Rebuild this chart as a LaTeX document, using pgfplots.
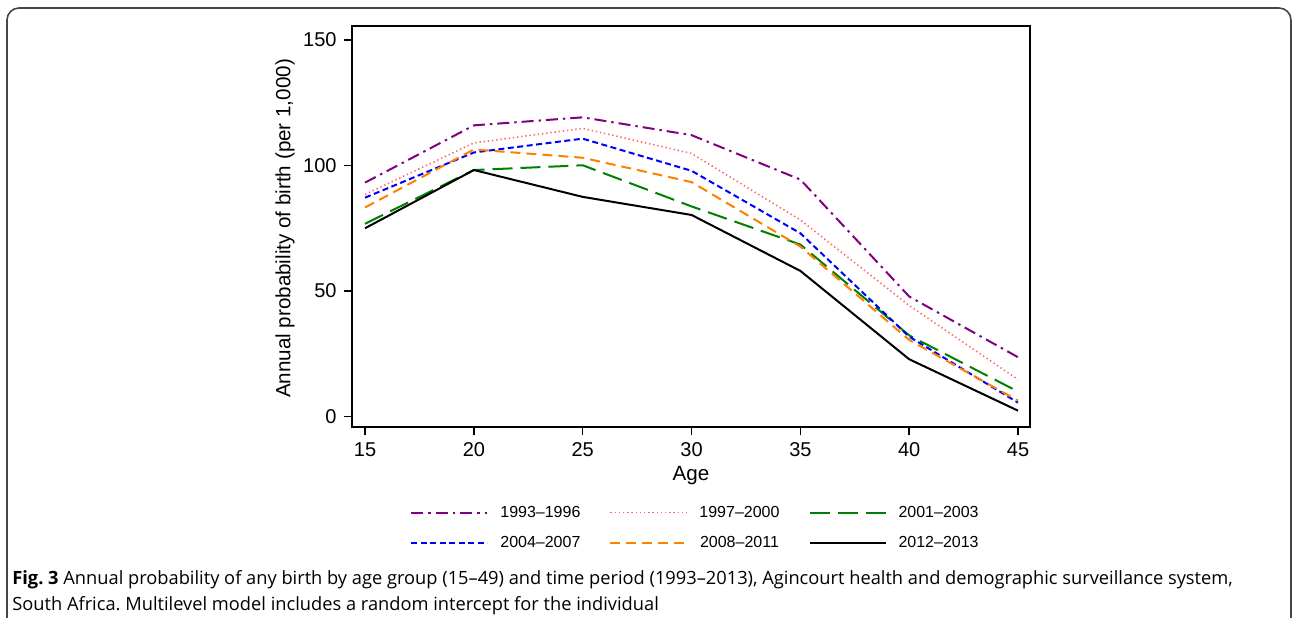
\documentclass[border=0pt]{standalone}
\usepackage{pgfplots}
\pgfplotsset{compat=1.18}
\usepackage{fontspec}
\setmainfont{Liberation Sans}
\newfontfamily\tickfont{Liberation Sans}
\newfontfamily\capfont{Open Sans}
\definecolor{cpurple}{RGB}{128,0,128}
\definecolor{cpink}{RGB}{255,105,105}
\definecolor{cgreen}{RGB}{0,128,0}
\definecolor{cblue}{RGB}{0,0,255}
\definecolor{corange}{RGB}{255,128,0}
\definecolor{frame}{RGB}{70,70,70}
\frenchspacing
\begin{document}
\begin{tikzpicture}
\path[use as bounding box] (0,0) rectangle (646.5bp,309bp);
\begin{scope}
\clip (0,0) rectangle (646.5bp,309bp);
\draw[frame, line width=0.8bp, rounded corners=6bp] (3.5bp,305bp) rectangle (645.5bp,-20bp);
\end{scope}
\begin{axis}[
  at={(176bp,95.5bp)}, anchor=south west,
  scale only axis, width=339bp, height=200.5bp,
  xmin=14.4, xmax=45.55, ymin=-4.2, ymax=155.6,
  xtick={15,20,25,30,35,40,45}, ytick={0,50,100,150},
  tick align=outside, major tick length=4.2bp,
  xtick pos=bottom, ytick pos=left,
  axis line style={line width=0.75bp},
  every tick/.style={black, line width=0.75bp},
  /pgf/number format/assume math mode=true,
  tick label style={font=\tickfont\fontsize{10bp}{12bp}\selectfont},
  label style={font=\fontsize{10.3bp}{12bp}\selectfont},
  xlabel={Age}, ylabel={Annual probability of birth (per 1,000)},
  xlabel style={at={(axis description cs:0.5,-0.12)}, anchor=center},
  ylabel style={at={(axis description cs:-0.0988,0.495)}, anchor=center},
  legend columns=3,
  legend image code/.code={\draw[#1] (0bp,0bp) -- (38bp,0bp);},
  legend style={draw=none, fill=none, font=\fontsize{8bp}{9.6bp}\selectfont,
    at={(axis description cs:0.0855,-0.194)}, anchor=north west,
    inner sep=0pt, row sep=7.5bp,
    nodes={inner sep=0pt, text height=6bp, text depth=1.5bp},
    /tikz/every odd column/.append style={column sep=6bp},
    /tikz/every even column/.append style={column sep=14.5bp}},
  every axis plot/.append style={line width=1bp},
]
\addplot[cpurple, dash pattern=on 6bp off 2.5bp on 1.2bp off 2.5bp] coordinates {
(15,93.2) (20,116.0) (25,119.2) (30,112.1) (35,94.4) (40,47.8) (45,23.6)};
\addlegendentry{1993–1996}
\addplot[cpink, line width=0.8bp, dash pattern=on 0.7bp off 1.4bp] coordinates {
(15,88.5) (20,109.0) (25,114.8) (30,104.8) (35,78.3) (40,44.2) (45,14.7)};
\addlegendentry{1997–2000}
\addplot[cgreen, dash pattern=on 10bp off 4bp] coordinates {
(15,76.8) (20,98.2) (25,100.1) (30,83.7) (35,68.5) (40,32.3) (45,9.9)};
\addlegendentry{2001–2003}
\addplot[cblue, dash pattern=on 3bp off 1.75bp] coordinates {
(15,87.2) (20,105.2) (25,110.7) (30,97.9) (35,73.0) (40,31.8) (45,5.5)};
\addlegendentry{2004–2007}
\addplot[corange, dash pattern=on 5bp off 3bp] coordinates {
(15,83.3) (20,106.4) (25,103.1) (30,93.4) (35,67.7) (40,30.5) (45,6.3)};
\addlegendentry{2008–2011}
\addplot[black] coordinates {
(15,75.0) (20,98.2) (25,87.5) (30,80.3) (35,58.0) (40,22.8) (45,2.3)};
\addlegendentry{2012–2013}
\end{axis}
\node[anchor=base west, inner sep=0pt, font=\capfont\fontsize{9.13bp}{11bp}\selectfont] at (6bp,17bp)
 {\textbf{Fig. 3} Annual probability of any birth by age group (15–49) and time period (1993–2013), Agincourt health and demographic surveillance system,};
\node[anchor=base west, inner sep=0pt, font=\capfont\fontsize{9.13bp}{11bp}\selectfont] at (6bp,4bp)
 {South Africa. Multilevel model includes a random intercept for the individual};
\end{tikzpicture}
\end{document}
